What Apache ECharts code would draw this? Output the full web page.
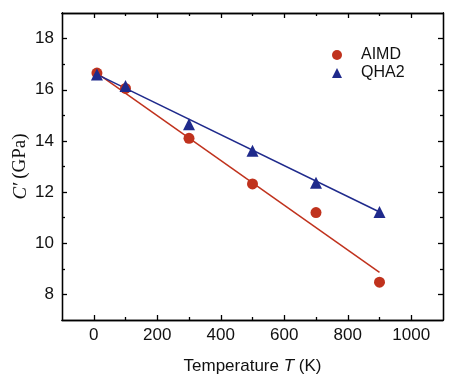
<!DOCTYPE html>
<html><head><meta charset="utf-8">
<script src="https://cdn.jsdelivr.net/npm/echarts@6/dist/echarts.min.js"></script>
<style>html,body{margin:0;padding:0;background:#fff}#c{width:454px;height:388px}</style>
</head><body><div id="c"></div>
<script>
const temps = [10, 100, 300, 500, 700, 900];
const aimd = [16.65, 16.05, 14.1, 12.32, 11.2, 8.48];
const qha2 = [16.6, 16.15, 14.65, 13.62, 12.36, 11.22];
const fitX = [10, 900];
const aimdFit = [16.65, 8.86];
const qha2Fit = [16.6, 11.22];
const xMajor = [0, 200, 400, 600, 800, 1000];
const xMinor = [100, 300, 500, 700, 900];
const yMajor = [8, 10, 12, 14, 16, 18];
const yMinor = [9, 11, 13, 15, 17];

const RED = '#c0321d', BLUE = '#1f2a8c';
const lineStyle = {color: '#000', width: 1.3};
function xa(pos, ticks, len, labels) {
  return {type: 'value', position: pos, min: -100, max: 1100, interval: 100,
    axisLine: {show: true, onZero: false, lineStyle},
    axisTick: {show: true, inside: true, length: len, customValues: ticks, lineStyle},
    axisLabel: labels ? {show: true, customValues: xMajor, formatter: v => String(v), fontFamily: 'Liberation Sans', fontSize: 17, color: '#111', margin: 7} : {show: false},
    splitLine: {show: false}};
}
function ya(pos, ticks, len, labels) {
  return {type: 'value', position: pos, min: 7, max: 19, interval: 1,
    axisLine: {show: true, onZero: false, lineStyle},
    axisTick: {show: true, inside: true, length: len, customValues: ticks, lineStyle},
    axisLabel: labels ? {show: true, customValues: yMajor, formatter: v => String(v), fontFamily: 'Liberation Sans', fontSize: 17, color: '#111', margin: 8} : {show: false},
    splitLine: {show: false}};
}
const xBottom = xa('bottom', xMajor, 5, true);
xBottom.name = '{n|Temperature }{i|T}{n| (K)}';
xBottom.nameLocation = 'middle';
xBottom.nameGap = 38;
xBottom.nameTextStyle = {rich: {
  n: {fontFamily: 'Liberation Sans', fontSize: 17, color: '#111'},
  i: {fontFamily: 'Liberation Sans', fontSize: 17, fontStyle: 'italic', color: '#111'}}};
const yLeft = ya('left', yMajor, 5, true);
yLeft.name = '{i|C\u2032}{n|(GPa)}';
yLeft.nameLocation = 'middle';
yLeft.nameGap = 32;
yLeft.nameMoveOverlap = false;
yLeft.nameTextStyle = {rich: {
  n: {fontFamily: 'Liberation Serif', fontSize: 19, color: '#111'},
  i: {fontFamily: 'Liberation Serif', fontSize: 19, fontStyle: 'italic', color: '#111', padding: [0, 4, 0, 0]}}};

const chart = echarts.init(document.getElementById('c'), null, {renderer: 'canvas'});
chart.setOption({
  backgroundColor: '#fff',
  animation: false,
  grid: {left: 62, right: 11, top: 13, bottom: 68, containLabel: false, outerBoundsMode: 'none'},
  xAxis: [xBottom, xa('bottom', xMinor, 3, false), xa('top', xMajor, 5, false), xa('top', xMinor, 3, false)],
  yAxis: [yLeft, ya('left', yMinor, 3, false), ya('right', yMajor, 5, false), ya('right', yMinor, 3, false)],
  legend: {
    orient: 'vertical', left: 327, top: 42, itemWidth: 10, itemHeight: 10, itemGap: 2,
    textStyle: {fontFamily: 'Liberation Sans', fontSize: 16, color: '#111', padding: [0, 0, 0, 14]},
    data: [{name: 'AIMD', icon: 'circle'}, {name: 'QHA2', icon: 'triangle'}]
  },
  series: [
    {name: 'AIMD fit', type: 'line', data: fitX.map((x, i) => [x, aimdFit[i]]), symbol: 'none',
      lineStyle: {color: RED, width: 1.5}, z: 2},
    {name: 'QHA2 fit', type: 'line', data: fitX.map((x, i) => [x, qha2Fit[i]]), symbol: 'none',
      lineStyle: {color: BLUE, width: 1.5}, z: 2},
    {name: 'AIMD', type: 'scatter', data: temps.map((x, i) => [x, aimd[i]]), symbol: 'circle', symbolSize: 11,
      itemStyle: {color: RED, opacity: 1}, z: 3},
    {name: 'QHA2', type: 'scatter', data: temps.map((x, i) => [x, qha2[i]]), symbol: 'triangle', symbolSize: 12,
      itemStyle: {color: BLUE, opacity: 1}, z: 4}
  ]
});
</script></body></html>
